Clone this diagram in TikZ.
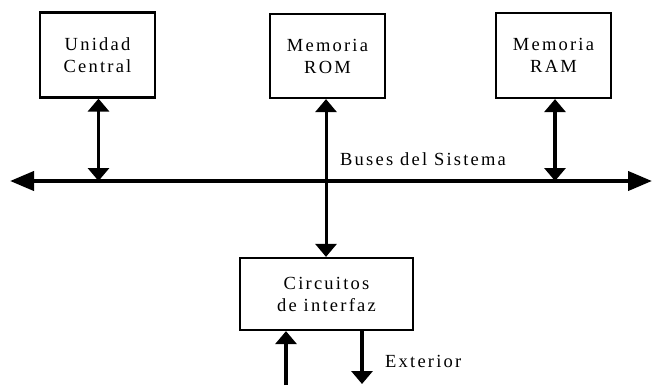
\documentclass[tikz,border=0pt]{standalone}
\usepackage{fontspec}
\setmainfont[LetterSpace=12]{Liberation Serif}
\usetikzlibrary{arrows.meta}
\begin{document}
\begin{tikzpicture}[x=1pt,y=-1pt,
  blk/.style={draw, line width=2.2pt, minimum width=#1, inner sep=0pt, align=center, font=\fontsize{18.5}{22}\selectfont},
  hd/.tip={Triangle[length=13pt 0 0,width=21pt 0 0]},
  bhd/.tip={Triangle[length=24pt 0 0,width=19pt 0 0]},
  tip/.style={-hd},
  dtip/.style={hd-hd},
  lbl/.style={font=\fontsize{18.5}{22}\selectfont, inner sep=0pt, anchor=base west}]
\useasboundingbox (0,0) rectangle (652,385);
\node[blk=115pt, minimum height=85pt] (uc) at (97.5,55) {Unidad\\Central};
\node[blk=115pt, minimum height=84pt] (rom) at (327.5,56) {Memoria\\ROM};
\node[blk=115pt, minimum height=85pt] (ram) at (553.5,55.5) {Memoria\\RAM};
\node[blk=173pt, minimum height=72pt] (ci) at (326.5,294) {Circuitos\\de interfaz};
\coordinate (bl) at (10,181);
\coordinate (br) at (652,181);
\draw[bhd-bhd, line width=4pt] (bl) -- (br);
\node[lbl] (bus) at (340,165) {Buses del Sistema};
\coordinate (ucb) at (98.5,181);
\coordinate (ramb) at (555,181);
\draw[dtip, line width=3.6pt] (ucb) -- (ucb |- uc.south);
\draw[dtip, line width=3.6pt] (ramb) -- (ramb |- ram.south);
\draw[dtip, line width=3pt] (ci.north -| 326,0) -- (rom.south -| 326,0);
\coordinate (inb) at (286,385);
\coordinate (outb) at (362,384);
\draw[tip, line width=3.6pt] (inb) -- (inb |- ci.south);
\draw[tip, line width=3.6pt] (outb |- ci.south) -- (outb);
\node[lbl] (ext) at (385,367) {Exterior};
\end{tikzpicture}
\end{document}
